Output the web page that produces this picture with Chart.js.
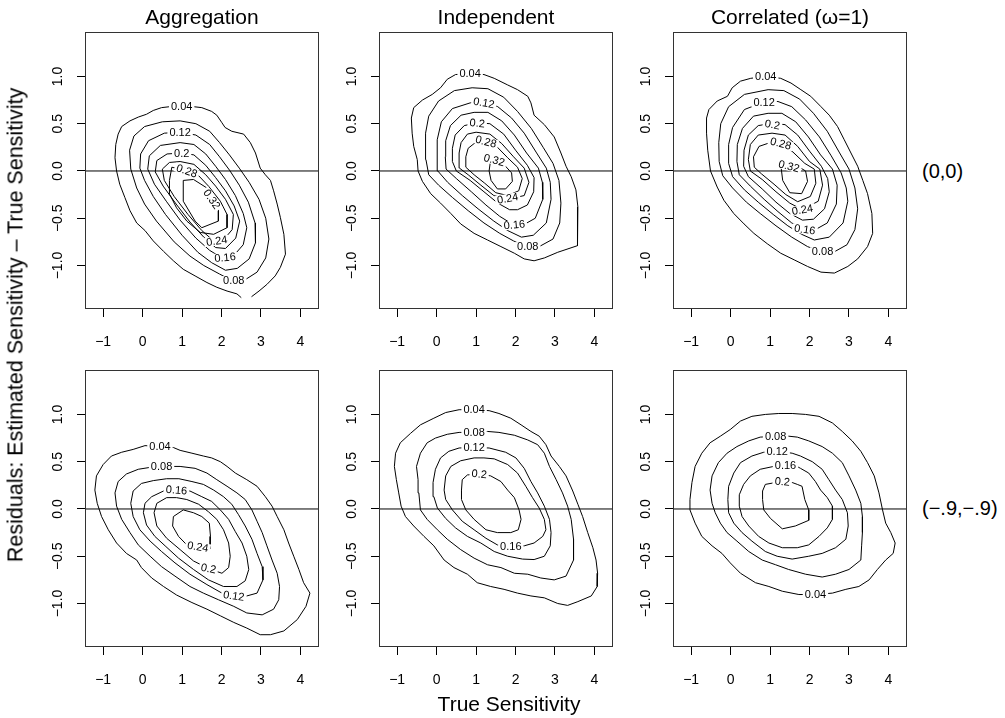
<!DOCTYPE html>
<html>
<head>
<meta charset="utf-8">
<script src="https://cdn.jsdelivr.net/npm/chart.js@4.4.1/dist/chart.umd.min.js"></script>
<style>
  body { margin: 0; background: #fff; width: 1005px; height: 718px; position: relative; overflow: hidden;
         font-family: 'Liberation Sans', Arial, Helvetica, sans-serif; color: #000; }
  canvas { position: absolute; }
  .txt { position: absolute; font-size: 21px; line-height: 21px; white-space: nowrap; }
</style>
</head>
<body>
<script>
// axis ranges and ticks (shared by every panel)
const xMin = -1.46, xMax = 4.47, yMin = -1.46, yMax = 1.47;
const xTickValues = [-1, 0, 1, 2, 3, 4];
const xTickLabels = ['−1', '0', '1', '2', '3', '4'];
const yTickValues = [-1, -0.5, 0, 0.5, 1];
const yTickLabels = ['−1.0', '−0.5', '0.0', '0.5', '1.0'];
const columnTitles = ['Aggregation', 'Independent', 'Correlated (ω=1)'];
const rowLabels = ['(0,0)', '(−.9,−.9)'];
const xTitle = 'True Sensitivity';
const yTitle = 'Residuals: Estimated Sensitivity – True Sensitivity';

// ---- row (0,0), Aggregation ----
const agg00_04 = [[2.50,-1.34],[2.39,-1.30],[2.14,-1.27],[1.88,-1.23],[1.63,-1.18],[1.33,-1.11],[1.03,-1.04],[0.78,-0.95],[0.53,-0.85],[0.27,-0.74],[0.06,-0.63],[-0.15,-0.55],[-0.32,-0.42],[-0.45,-0.28],[-0.58,-0.14],[-0.66,0.00],[-0.70,0.14],[-0.68,0.28],[-0.62,0.39],[-0.53,0.47],[-0.32,0.53],[-0.11,0.57],[0.10,0.60],[0.27,0.64],[0.48,0.67],[0.69,0.68],[0.99,0.68],[1.29,0.68],[1.50,0.67],[1.75,0.63],[1.88,0.59],[2.01,0.51],[2.09,0.46],[2.26,0.42],[2.56,0.39],[2.73,0.30],[2.86,0.19],[2.98,0.03],[3.11,-0.04],[3.24,-0.10],[3.32,-0.21],[3.41,-0.35],[3.49,-0.49],[3.58,-0.67],[3.62,-0.88],[3.49,-1.02],[3.36,-1.11],[3.15,-1.20],[2.95,-1.27],[2.76,-1.33]];
const agg00_08 = [[0.95,0.53],[1.35,0.50],[1.70,0.42],[1.95,0.30],[2.20,0.17],[2.45,0.03],[2.70,-0.12],[2.95,-0.30],[3.12,-0.50],[3.20,-0.72],[3.12,-0.92],[2.90,-1.07],[2.60,-1.15],[2.31,-1.17],[1.95,-1.09],[1.55,-1.00],[1.20,-0.90],[0.80,-0.75],[0.35,-0.53],[0.05,-0.35],[-0.15,-0.18],[-0.30,0.02],[-0.33,0.22],[-0.22,0.37],[0.05,0.47],[0.50,0.52]];
const agg00_12 = [[0.95,0.41],[1.35,0.38],[1.70,0.28],[1.95,0.15],[2.20,0.01],[2.45,-0.15],[2.68,-0.33],[2.85,-0.55],[2.86,-0.76],[2.70,-0.93],[2.40,-1.03],[2.10,-1.05],[1.75,-0.97],[1.40,-0.86],[1.00,-0.68],[0.58,-0.46],[0.27,-0.27],[0.05,-0.10],[-0.07,0.03],[-0.05,0.18],[0.15,0.32],[0.55,0.40]];
const agg00_16 = [[0.95,0.30],[1.30,0.28],[1.60,0.18],[1.85,0.05],[2.10,-0.09],[2.35,-0.26],[2.55,-0.45],[2.64,-0.60],[2.55,-0.78],[2.30,-0.90],[2.05,-0.93],[1.70,-0.84],[1.35,-0.71],[0.95,-0.52],[0.60,-0.32],[0.30,-0.14],[0.13,0.02],[0.17,0.16],[0.45,0.27]];
const agg00_20 = [[0.99,0.19],[1.30,0.17],[1.60,0.06],[1.85,-0.07],[2.10,-0.21],[2.32,-0.37],[2.46,-0.53],[2.36,-0.71],[2.10,-0.82],[1.85,-0.81],[1.55,-0.70],[1.20,-0.54],[0.85,-0.35],[0.52,-0.16],[0.32,-0.01],[0.36,0.11],[0.62,0.18]];
const agg00_24 = [[0.95,0.10],[1.30,0.07],[1.60,-0.04],[1.85,-0.16],[2.10,-0.30],[2.30,-0.46],[2.27,-0.62],[2.05,-0.73],[1.80,-0.74],[1.50,-0.63],[1.15,-0.46],[0.80,-0.27],[0.55,-0.10],[0.50,0.02],[0.68,0.09]];
const agg00_28 = [[0.74,0.04],[1.12,0.00],[1.42,-0.05],[1.67,-0.16],[1.97,-0.32],[2.14,-0.46],[2.14,-0.60],[1.80,-0.67],[1.46,-0.65],[1.12,-0.53],[0.86,-0.39],[0.69,-0.25],[0.68,-0.10]];
const agg00_32 = [[1.03,-0.10],[1.29,-0.09],[1.63,-0.18],[1.80,-0.28],[1.92,-0.35],[1.92,-0.53],[1.50,-0.60],[1.33,-0.53],[1.03,-0.32]];
const agg00Labels = [['0.04',0.99,0.68,0],['0.12',0.95,0.405,0],['0.2',0.99,0.19,0],['0.28',1.12,0.0,20],['0.32',1.75,-0.30,55],['0.24',1.88,-0.74,-8],['0.16',2.09,-0.915,-5],['0.08',2.31,-1.16,0]];

// ---- row (0,0), Independent ----
const ind00_04 = [[0.85,1.03],[1.20,1.02],[1.46,0.98],[1.80,0.91],[2.05,0.86],[2.31,0.79],[2.39,0.72],[2.47,0.59],[2.73,0.49],[2.98,0.36],[3.15,0.19],[3.28,0.05],[3.41,-0.06],[3.53,-0.20],[3.58,-0.38],[3.58,-0.63],[3.56,-0.79],[3.07,-0.86],[2.73,-0.92],[2.47,-0.95],[2.22,-0.93],[1.97,-0.87],[1.63,-0.80],[1.29,-0.73],[0.95,-0.66],[0.61,-0.56],[0.36,-0.45],[0.10,-0.34],[-0.15,-0.24],[-0.36,-0.11],[-0.47,0.00],[-0.49,0.12],[-0.58,0.26],[-0.62,0.40],[-0.64,0.56],[-0.58,0.67],[-0.36,0.75],[-0.11,0.81],[0.10,0.88],[0.27,0.97],[0.48,1.02]];
const ind00_08 = [[0.90,0.88],[1.30,0.87],[1.70,0.78],[2.05,0.63],[2.40,0.45],[2.70,0.25],[2.95,0.08],[3.10,-0.10],[3.15,-0.34],[3.12,-0.55],[2.95,-0.72],[2.60,-0.80],[2.30,-0.81],[1.95,-0.74],[1.60,-0.66],[1.20,-0.55],[0.80,-0.42],[0.40,-0.28],[0.05,-0.15],[-0.20,-0.04],[-0.27,0.12],[-0.28,0.40],[-0.20,0.58],[0.05,0.74],[0.45,0.85]];
const ind00_12 = [[0.85,0.72],[1.20,0.735],[1.55,0.68],[1.90,0.56],[2.22,0.40],[2.52,0.20],[2.78,0.03],[2.88,-0.12],[2.90,-0.30],[2.78,-0.55],[2.45,-0.68],[2.15,-0.70],[1.80,-0.63],[1.45,-0.53],[1.05,-0.40],[0.65,-0.26],[0.28,-0.12],[0.03,0.00],[0.01,0.15],[0.02,0.33],[0.12,0.52],[0.40,0.66]];
const ind00_16 = [[0.95,0.62],[1.30,0.62],[1.65,0.53],[1.97,0.38],[2.28,0.19],[2.58,0.03],[2.68,-0.12],[2.69,-0.30],[2.50,-0.50],[2.20,-0.57],[1.95,-0.57],[1.60,-0.48],[1.25,-0.36],[0.88,-0.22],[0.50,-0.08],[0.24,0.02],[0.22,0.15],[0.23,0.32],[0.35,0.48],[0.62,0.59]];
const ind00_20 = [[1.03,0.51],[1.35,0.50],[1.70,0.39],[2.00,0.22],[2.30,0.06],[2.47,-0.07],[2.46,-0.22],[2.30,-0.36],[2.05,-0.41],[1.85,-0.41],[1.55,-0.34],[1.20,-0.22],[0.85,-0.10],[0.50,0.00],[0.40,0.10],[0.40,0.24],[0.47,0.38],[0.70,0.48]];
const ind00_24 = [[1.00,0.41],[1.35,0.39],[1.65,0.29],[1.95,0.15],[2.22,0.03],[2.34,-0.12],[2.22,-0.26],[1.80,-0.30],[1.45,-0.26],[1.12,-0.15],[0.80,-0.04],[0.58,0.03],[0.57,0.19],[0.62,0.30],[0.78,0.39]];
const ind00_28 = [[0.98,0.30],[1.25,0.31],[1.52,0.26],[1.80,0.14],[2.05,0.04],[2.17,-0.08],[2.08,-0.21],[1.80,-0.26],[1.50,-0.23],[1.22,-0.13],[0.95,-0.04],[0.74,0.04],[0.74,0.15],[0.80,0.24]];
const ind00_32 = [[1.36,0.09],[1.47,0.12],[1.68,0.08],[1.90,-0.02],[1.92,-0.11],[1.75,-0.19],[1.54,-0.19],[1.38,-0.10],[1.33,0.00]];
const ind00Labels = [['0.04',0.85,1.03,0],['0.12',1.20,0.72,10],['0.2',1.03,0.505,5],['0.28',1.25,0.31,15],['0.32',1.46,0.115,15],['0.24',1.80,-0.29,-10],['0.16',1.97,-0.57,-5],['0.08',2.31,-0.80,0]];

// ---- row (0,0), Correlated ----
const cor00_04 = [[0.89,1.00],[1.27,0.98],[1.53,0.93],[1.78,0.86],[2.03,0.79],[2.29,0.68],[2.50,0.59],[2.71,0.47],[2.88,0.33],[3.05,0.19],[3.22,0.05],[3.35,-0.10],[3.47,-0.24],[3.58,-0.45],[3.60,-0.66],[3.47,-0.80],[3.22,-0.93],[2.97,-1.01],[2.63,-1.08],[2.29,-1.07],[1.95,-1.01],[1.61,-0.94],[1.27,-0.87],[0.93,-0.77],[0.59,-0.66],[0.34,-0.56],[0.08,-0.45],[-0.17,-0.31],[-0.34,-0.17],[-0.51,0.00],[-0.58,0.22],[-0.61,0.40],[-0.61,0.56],[-0.55,0.65],[-0.34,0.74],[-0.08,0.79],[0.04,0.88],[0.25,0.95],[0.51,0.98]];
const cor00_08 = [[0.95,0.86],[1.35,0.85],[1.75,0.76],[2.10,0.61],[2.45,0.42],[2.75,0.20],[3.00,0.02],[3.15,-0.18],[3.22,-0.40],[3.15,-0.62],[2.95,-0.78],[2.65,-0.85],[2.33,-0.86],[1.95,-0.80],[1.55,-0.70],[1.15,-0.58],[0.75,-0.45],[0.40,-0.33],[0.05,-0.18],[-0.20,-0.05],[-0.29,0.10],[-0.30,0.30],[-0.25,0.50],[-0.05,0.68],[0.35,0.81]];
const cor00_12 = [[0.85,0.73],[1.20,0.735],[1.55,0.68],[1.90,0.54],[2.25,0.36],[2.55,0.16],[2.80,-0.02],[2.93,-0.18],[2.97,-0.32],[2.85,-0.55],[2.50,-0.70],[2.12,-0.73],[1.80,-0.67],[1.45,-0.58],[1.08,-0.46],[0.70,-0.33],[0.35,-0.20],[0.05,-0.06],[-0.05,0.08],[-0.05,0.28],[0.05,0.46],[0.35,0.65]];
const cor00_16 = [[0.95,0.61],[1.30,0.61],[1.65,0.52],[1.97,0.36],[2.28,0.17],[2.58,0.02],[2.70,-0.15],[2.68,-0.35],[2.45,-0.55],[2.15,-0.62],[1.90,-0.625],[1.55,-0.55],[1.20,-0.43],[0.85,-0.30],[0.50,-0.16],[0.22,-0.04],[0.16,0.10],[0.17,0.28],[0.30,0.45],[0.58,0.58]];
const cor00_20 = [[1.06,0.505],[1.38,0.49],[1.70,0.38],[2.00,0.21],[2.30,0.05],[2.46,-0.08],[2.50,-0.22],[2.38,-0.40],[2.10,-0.51],[1.82,-0.52],[1.50,-0.45],[1.15,-0.33],[0.80,-0.19],[0.45,-0.06],[0.33,0.05],[0.34,0.22],[0.45,0.38],[0.70,0.48]];
const cor00_24 = [[1.05,0.40],[1.38,0.38],[1.70,0.26],[2.00,0.10],[2.26,0.02],[2.33,-0.15],[2.22,-0.32],[1.82,-0.41],[1.50,-0.34],[1.15,-0.22],[0.80,-0.09],[0.50,0.00],[0.45,0.12],[0.50,0.28],[0.70,0.38]];
const cor00_28 = [[1.00,0.30],[1.27,0.30],[1.58,0.20],[1.88,0.08],[2.12,0.02],[2.16,-0.13],[2.02,-0.27],[1.70,-0.325],[1.40,-0.25],[1.10,-0.14],[0.78,-0.03],[0.60,0.04],[0.58,0.15],[0.72,0.26]];
const cor00_32 = [[1.27,0.08],[1.48,0.05],[1.70,0.05],[1.90,0.00],[1.95,-0.11],[1.80,-0.24],[1.50,-0.23],[1.32,-0.10],[1.29,0.00]];
const cor00Labels = [['0.04',0.89,1.0,0],['0.12',0.85,0.72,0],['0.2',1.06,0.49,10],['0.28',1.27,0.29,15],['0.32',1.48,0.05,15],['0.24',1.82,-0.41,-10],['0.16',1.88,-0.62,8],['0.08',2.33,-0.855,0]];

// ---- row (-.9,-.9), Aggregation ----
const agg99_04 = [[0.44,0.66],[0.78,0.65],[0.95,0.62],[1.25,0.59],[1.54,0.56],[1.75,0.54],[1.97,0.50],[2.14,0.45],[2.35,0.38],[2.64,0.31],[2.90,0.24],[3.11,0.13],[3.28,0.03],[3.41,-0.08],[3.58,-0.22],[3.70,-0.36],[3.83,-0.50],[3.96,-0.64],[4.08,-0.78],[4.24,-0.89],[4.14,-1.03],[3.92,-1.17],[3.58,-1.29],[3.24,-1.33],[2.98,-1.33],[2.64,-1.26],[2.31,-1.20],[1.97,-1.13],[1.63,-1.06],[1.25,-0.99],[0.86,-0.91],[0.53,-0.82],[0.23,-0.73],[-0.03,-0.62],[-0.15,-0.54],[-0.41,-0.47],[-0.66,-0.36],[-0.87,-0.22],[-1.04,-0.08],[-1.15,0.06],[-1.21,0.20],[-1.17,0.35],[-1.00,0.47],[-0.79,0.56],[-0.53,0.60],[-0.24,0.63],[0.06,0.67]];
const agg99_08 = [[0.48,0.45],[0.95,0.45],[1.33,0.43],[1.63,0.38],[1.88,0.31],[2.14,0.24],[2.39,0.17],[2.60,0.10],[2.77,-0.01],[2.90,-0.13],[3.03,-0.25],[3.15,-0.39],[3.28,-0.54],[3.41,-0.68],[3.47,-0.82],[3.45,-0.96],[3.32,-1.06],[3.03,-1.12],[2.64,-1.10],[2.31,-1.03],[1.92,-0.96],[1.54,-0.89],[1.20,-0.82],[0.82,-0.71],[0.48,-0.61],[0.19,-0.50],[-0.11,-0.38],[-0.32,-0.25],[-0.53,-0.11],[-0.66,0.03],[-0.70,0.17],[-0.62,0.29],[-0.41,0.37],[-0.11,0.42],[0.19,0.44]];
const agg99_12 = [[0.61,0.32],[0.92,0.32],[1.25,0.29],[1.54,0.26],[1.80,0.20],[2.05,0.13],[2.26,0.05],[2.43,-0.06],[2.60,-0.18],[2.77,-0.32],[2.90,-0.47],[3.03,-0.61],[3.05,-0.75],[2.90,-0.89],[2.64,-0.92],[2.31,-0.92],[2.01,-0.89],[1.63,-0.80],[1.20,-0.69],[0.82,-0.57],[0.48,-0.45],[0.19,-0.34],[-0.07,-0.22],[-0.24,-0.08],[-0.30,0.06],[-0.24,0.19],[-0.03,0.27],[0.27,0.30]];
const agg99_16 = [[0.86,0.20],[1.20,0.19],[1.50,0.13],[1.75,0.08],[1.97,-0.01],[2.18,-0.11],[2.35,-0.24],[2.52,-0.36],[2.64,-0.50],[2.69,-0.64],[2.60,-0.76],[2.39,-0.82],[2.05,-0.82],[1.67,-0.75],[1.29,-0.64],[0.91,-0.52],[0.57,-0.39],[0.31,-0.29],[0.10,-0.17],[0.02,-0.04],[0.06,0.06],[0.23,0.13],[0.53,0.19]];
const agg99_20 = [[0.61,0.12],[0.86,0.12],[1.12,0.10],[1.42,0.05],[1.67,-0.03],[1.88,-0.11],[2.05,-0.22],[2.18,-0.36],[2.22,-0.50],[2.18,-0.62],[2.01,-0.68],[1.67,-0.63],[1.29,-0.55],[0.95,-0.43],[0.61,-0.31],[0.36,-0.18],[0.29,-0.04],[0.36,0.06]];
const agg99_24 = [[1.03,-0.01],[1.29,-0.04],[1.50,-0.08],[1.69,-0.15],[1.72,-0.29],[1.71,-0.42],[1.37,-0.39],[1.12,-0.38],[0.91,-0.29],[0.76,-0.18],[0.78,-0.08]];
const agg99Labels = [['0.04',0.44,0.66,0],['0.08',0.48,0.45,0],['0.16',0.86,0.20,5],['0.24',1.40,-0.40,10],['0.2',1.67,-0.63,12],['0.12',2.31,-0.92,8]];

// ---- row (-.9,-.9), Independent ----
const ind99_04 = [[0.95,1.05],[1.33,1.04],[1.58,1.01],[1.88,0.96],[2.14,0.89],[2.39,0.82],[2.60,0.77],[2.77,0.68],[2.90,0.56],[3.11,0.45],[3.28,0.35],[3.45,0.19],[3.58,0.05],[3.70,-0.08],[3.83,-0.25],[3.96,-0.41],[4.04,-0.54],[4.08,-0.68],[4.07,-0.82],[3.92,-0.92],[3.58,-0.98],[3.32,-1.02],[3.07,-1.00],[2.73,-0.94],[2.39,-0.92],[2.05,-0.89],[1.71,-0.85],[1.37,-0.82],[1.03,-0.78],[0.78,-0.69],[0.44,-0.62],[0.19,-0.54],[-0.07,-0.39],[-0.32,-0.29],[-0.58,-0.18],[-0.79,-0.08],[-0.90,0.03],[-0.96,0.17],[-1.02,0.31],[-1.07,0.45],[-1.04,0.59],[-0.92,0.70],[-0.66,0.80],[-0.41,0.89],[-0.07,0.96],[0.23,1.02],[0.57,1.05]];
const ind99_08 = [[0.95,0.81],[1.29,0.82],[1.58,0.81],[1.97,0.78],[2.31,0.73],[2.56,0.68],[2.73,0.59],[2.86,0.45],[3.03,0.31],[3.19,0.17],[3.32,0.03],[3.41,-0.11],[3.47,-0.32],[3.47,-0.54],[3.28,-0.71],[2.98,-0.75],[2.64,-0.73],[2.31,-0.69],[1.97,-0.68],[1.63,-0.62],[1.29,-0.59],[0.95,-0.52],[0.61,-0.43],[0.27,-0.32],[0.02,-0.22],[-0.24,-0.11],[-0.41,-0.01],[-0.45,0.17],[-0.47,0.31],[-0.51,0.45],[-0.41,0.59],[-0.24,0.70],[-0.03,0.75],[0.27,0.79],[0.57,0.81]];
const ind99_12 = [[0.95,0.65],[1.33,0.645],[1.75,0.60],[2.01,0.54],[2.22,0.43],[2.39,0.29],[2.56,0.17],[2.73,0.03],[2.86,-0.11],[2.90,-0.25],[2.88,-0.39],[2.73,-0.50],[2.47,-0.535],[2.18,-0.53],[1.80,-0.50],[1.46,-0.45],[1.12,-0.36],[0.78,-0.29],[0.48,-0.20],[0.23,-0.10],[0.02,0.01],[-0.07,0.13],[-0.09,0.28],[-0.03,0.42],[0.10,0.54],[0.31,0.61],[0.57,0.645]];
const ind99_16 = [[0.95,0.54],[1.20,0.54],[1.46,0.53],[1.80,0.47],[2.05,0.38],[2.26,0.24],[2.43,0.12],[2.60,0.01],[2.73,-0.11],[2.77,-0.22],[2.69,-0.29],[2.47,-0.36],[2.22,-0.39],[1.88,-0.40],[1.54,-0.38],[1.25,-0.31],[0.95,-0.22],[0.65,-0.13],[0.40,-0.01],[0.23,0.10],[0.19,0.20],[0.23,0.35],[0.36,0.45],[0.61,0.51]];
const ind99_20 = [[1.08,0.37],[1.37,0.35],[1.63,0.29],[1.80,0.20],[1.97,0.12],[2.09,-0.01],[2.14,-0.11],[2.07,-0.22],[1.88,-0.25],[1.54,-0.25],[1.25,-0.22],[0.95,-0.11],[0.74,-0.01],[0.63,0.10],[0.63,0.20],[0.65,0.31],[0.78,0.36]];
const ind99Labels = [['0.04',0.95,1.05,0],['0.08',0.95,0.81,0],['0.12',0.95,0.65,0],['0.2',1.08,0.37,5],['0.16',1.88,-0.40,0]];

// ---- row (-.9,-.9), Correlated ----
const cor99_04 = [[1.22,1.01],[1.56,1.01],[1.90,1.00],[2.24,0.98],[2.58,0.91],[2.83,0.82],[3.08,0.72],[3.30,0.61],[3.47,0.49],[3.64,0.35],[3.76,0.17],[3.85,-0.01],[3.93,-0.15],[4.06,-0.25],[4.17,-0.36],[4.12,-0.47],[3.93,-0.54],[3.72,-0.64],[3.51,-0.75],[3.25,-0.82],[2.92,-0.85],[2.58,-0.89],[2.15,-0.905],[1.73,-0.905],[1.31,-0.87],[0.97,-0.82],[0.63,-0.78],[0.25,-0.68],[-0.01,-0.57],[-0.22,-0.47],[-0.47,-0.39],[-0.73,-0.29],[-0.90,-0.15],[-1.03,-0.01],[-1.03,0.10],[-0.98,0.28],[-0.90,0.45],[-0.73,0.59],[-0.52,0.70],[-0.26,0.77],[-0.01,0.84],[0.25,0.93],[0.54,0.98],[0.88,1.00]];
const cor99_08 = [[1.14,0.77],[1.47,0.77],[1.69,0.76],[1.98,0.72],[2.32,0.66],[2.58,0.59],[2.83,0.49],[3.00,0.35],[3.17,0.20],[3.30,0.06],[3.34,-0.08],[3.34,-0.25],[3.32,-0.39],[3.30,-0.54],[3.00,-0.64],[2.66,-0.69],[2.32,-0.72],[1.90,-0.69],[1.47,-0.64],[1.14,-0.59],[0.80,-0.54],[0.46,-0.45],[0.16,-0.34],[-0.09,-0.25],[-0.26,-0.15],[-0.39,-0.04],[-0.47,0.06],[-0.52,0.20],[-0.47,0.35],[-0.31,0.49],[-0.09,0.59],[0.16,0.66],[0.46,0.72],[0.75,0.76]];
const cor99_12 = [[1.18,0.61],[1.56,0.59],[1.77,0.56],[2.07,0.50],[2.32,0.42],[2.49,0.31],[2.66,0.20],[2.83,0.10],[2.96,-0.04],[2.98,-0.18],[2.92,-0.32],[2.66,-0.41],[2.32,-0.47],[1.98,-0.50],[1.56,-0.53],[1.18,-0.50],[0.88,-0.45],[0.54,-0.34],[0.29,-0.25],[0.08,-0.15],[-0.05,-0.04],[-0.07,0.10],[-0.05,0.24],[0.08,0.38],[0.25,0.49],[0.54,0.56],[0.84,0.60]];
const cor99_16 = [[1.39,0.46],[1.64,0.46],[1.77,0.43],[1.98,0.38],[2.15,0.29],[2.28,0.20],[2.45,0.12],[2.58,0.03],[2.58,-0.11],[2.45,-0.20],[2.24,-0.29],[1.98,-0.38],[1.69,-0.41],[1.31,-0.41],[0.97,-0.36],[0.71,-0.29],[0.46,-0.18],[0.29,-0.08],[0.22,0.03],[0.22,0.15],[0.33,0.26],[0.50,0.35],[0.75,0.42],[1.09,0.45]];
const cor99_20 = [[1.31,0.29],[1.56,0.28],[1.69,0.26],[1.81,0.24],[1.88,0.10],[1.98,-0.01],[1.98,-0.12],[1.64,-0.18],[1.31,-0.21],[1.01,-0.10],[0.84,-0.01],[0.81,0.10],[0.81,0.19],[0.88,0.26],[1.14,0.28]];
const cor99Labels = [['0.08',1.14,0.77,0],['0.12',1.18,0.61,0],['0.16',1.39,0.46,0],['0.2',1.31,0.29,5],['0.04',2.15,-0.905,0]];

// panel placement (plot box, px)
const boxLefts = [85, 379, 673];
const boxTops = [32, 370];
const boxW = 234, boxH = 277;
const yAxisW = 60, xAxisH = 45, padTop = 16, padRight = 6;

const panels = [
  { col: 0, row: 0, open: [agg00_04], closed: [agg00_08, agg00_12, agg00_16, agg00_20, agg00_24, agg00_28, agg00_32], labels: agg00Labels },
  { col: 1, row: 0, open: [], closed: [ind00_04, ind00_08, ind00_12, ind00_16, ind00_20, ind00_24, ind00_28, ind00_32], labels: ind00Labels },
  { col: 2, row: 0, open: [], closed: [cor00_04, cor00_08, cor00_12, cor00_16, cor00_20, cor00_24, cor00_28, cor00_32], labels: cor00Labels },
  { col: 0, row: 1, open: [], closed: [agg99_04, agg99_08, agg99_12, agg99_16, agg99_20, agg99_24], labels: agg99Labels },
  { col: 1, row: 1, open: [], closed: [ind99_04, ind99_08, ind99_12, ind99_16, ind99_20], labels: ind99Labels },
  { col: 2, row: 1, open: [], closed: [cor99_04, cor99_08, cor99_12, cor99_16, cor99_20], labels: cor99Labels },
];

Chart.defaults.font.family = "'Liberation Sans', Arial, Helvetica, sans-serif";
Chart.defaults.color = '#000';

// box around each plot region
const framePlugin = {
  id: 'frame',
  afterDraw(chart) {
    const { ctx, chartArea: a } = chart;
    ctx.save();
    ctx.strokeStyle = '#333';
    ctx.lineWidth = 1;
    ctx.strokeRect(Math.round(a.left) + 0.5, Math.round(a.top) + 0.5,
                   Math.round(a.right - a.left) - 1, Math.round(a.bottom - a.top) - 1);
    ctx.restore();
  }
};

// contour labels sitting in a gap of the line
const labelPlugin = {
  id: 'contourLabels',
  afterDatasetsDraw(chart, args, opts) {
    const { ctx, scales: { x, y } } = chart;
    ctx.save();
    ctx.font = "11px 'Liberation Sans', Arial, sans-serif";
    ctx.textAlign = 'center';
    ctx.textBaseline = 'middle';
    for (const [t, vx, vy, ang] of opts.items) {
      const px = x.getPixelForValue(vx), py = y.getPixelForValue(vy);
      const w = ctx.measureText(t).width;
      ctx.save();
      ctx.translate(px, py);
      ctx.rotate(ang * Math.PI / 180);
      ctx.fillStyle = '#fff';
      ctx.fillRect(-w / 2 - 2, -4.5, w + 4, 9);
      ctx.fillStyle = '#000';
      ctx.fillText(t, 0, 0.5);
      ctx.restore();
    }
    ctx.restore();
  }
};

function lineSet(pts, closed) {
  return {
    data: closed ? pts.concat([pts[0]]) : pts,
    showLine: true, borderColor: '#000', borderWidth: 1,
    pointRadius: 0, pointHoverRadius: 0, fill: false, tension: 0
  };
}

function makePanel(p) {
  const c = document.createElement('canvas');
  const w = yAxisW + boxW + padRight, h = padTop + boxH + xAxisH;
  c.width = w; c.height = h;
  c.style.left = (boxLefts[p.col] - yAxisW) + 'px';
  c.style.top = (boxTops[p.row] - padTop) + 'px';
  c.style.width = w + 'px'; c.style.height = h + 'px';
  document.body.appendChild(c);

  const datasets = [lineSet([[xMin, 0], [xMax, 0]], false)];
  p.open.forEach(pts => datasets.push(lineSet(pts, false)));
  p.closed.forEach(pts => datasets.push(lineSet(pts, true)));

  new Chart(c, {
    type: 'scatter',
    data: { datasets },
    options: {
      responsive: false, animation: false, events: [],
      layout: { padding: { top: padTop, right: padRight, left: 0, bottom: 0 } },
      plugins: { legend: { display: false }, tooltip: { enabled: false }, contourLabels: { items: p.labels } },
      scales: {
        x: {
          type: 'linear', min: xMin, max: xMax,
          afterBuildTicks: s => { s.ticks = xTickValues.map(v => ({ value: v })); },
          afterFit: s => { s.height = xAxisH; },
          ticks: { callback: (v, i) => xTickLabels[i], autoSkip: false, minRotation: 0, maxRotation: 0,
                   padding: 17, font: { size: 14 }, color: '#000' },
          grid: { drawOnChartArea: false, drawTicks: true, tickLength: 8, color: '#000', lineWidth: 1 },
          border: { display: false }
        },
        y: {
          type: 'linear', min: yMin, max: yMax,
          afterBuildTicks: s => { s.ticks = yTickValues.map(v => ({ value: v })); },
          afterFit: s => { s.width = yAxisW; },
          ticks: { callback: (v, i) => yTickLabels[i], autoSkip: false, minRotation: 90, maxRotation: 90,
                   crossAlign: 'center', padding: 5, font: { size: 14 }, color: '#000' },
          grid: { drawOnChartArea: false, drawTicks: true, tickLength: 8, color: '#000', lineWidth: 1 },
          border: { display: false }
        }
      }
    },
    plugins: [framePlugin, labelPlugin]
  });
}

panels.forEach(makePanel);

// titles and margin texts
function addText(str, left, top, css) {
  const d = document.createElement('div');
  d.className = 'txt';
  d.textContent = str;
  d.style.left = left + 'px';
  d.style.top = top + 'px';
  Object.assign(d.style, css || {});
  document.body.appendChild(d);
}
columnTitles.forEach((t, i) => addText(t, boxLefts[i] + boxW / 2, 16, { transform: 'translate(-50%,-50%)' }));
addText(rowLabels[0], 922, 171, { fontSize: '20px', transform: 'translateY(-50%)' });
addText(rowLabels[1], 922, 508, { fontSize: '20px', transform: 'translateY(-50%)' });
addText(xTitle, 509, 703, { transform: 'translate(-50%,-50%)' });
addText(yTitle, 16, 325, { fontSize: '21.5px', transform: 'translate(-50%,-50%) rotate(-90deg)' });
</script>
</body>
</html>
